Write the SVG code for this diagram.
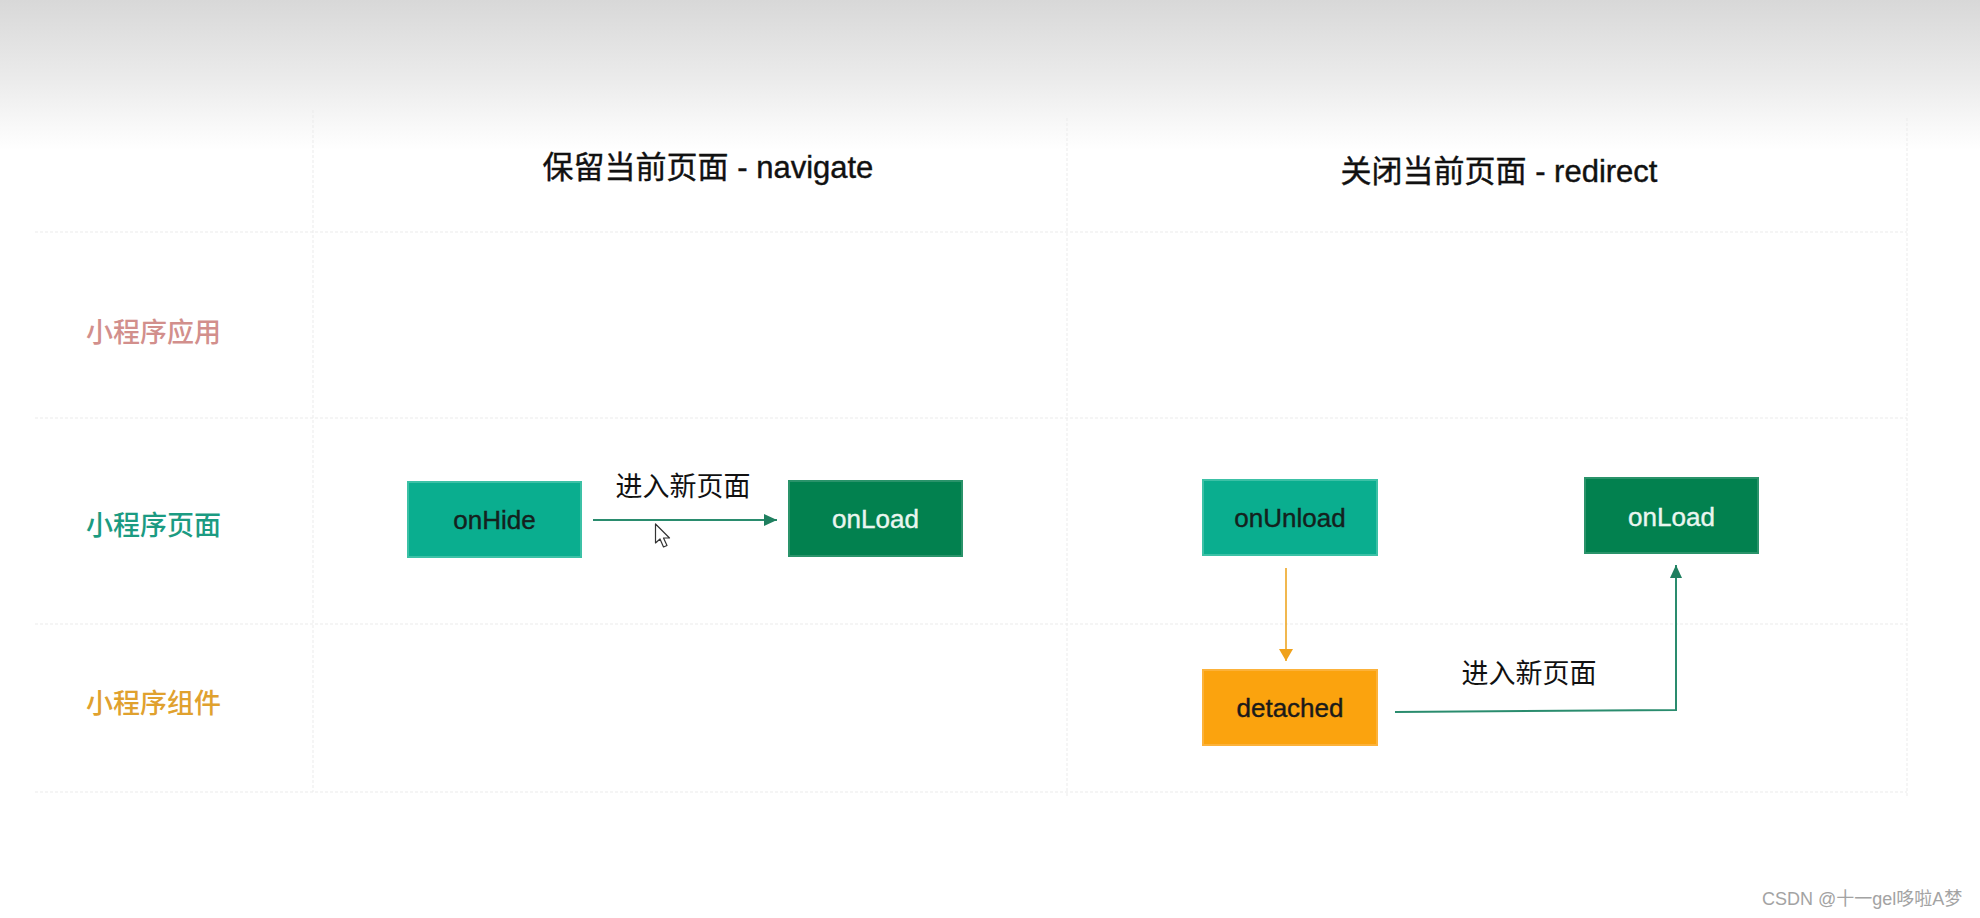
<svg xmlns="http://www.w3.org/2000/svg" width="1980" height="918" viewBox="0 0 1980 918">
  <defs>
    <linearGradient id="bg" x1="0" y1="0" x2="0" y2="1">
      <stop offset="0" stop-color="#d8d8d8"/>
      <stop offset="0.55" stop-color="#ececec"/>
      <stop offset="1" stop-color="#ffffff"/>
    </linearGradient>
    <marker id="arrG" markerUnits="userSpaceOnUse" markerWidth="14" markerHeight="12" refX="13" refY="6" orient="auto">
      <path d="M0,0 L13,6 L0,12 Z" fill="#1f7f5f"/>
    </marker>
    <marker id="arrO" markerUnits="userSpaceOnUse" markerWidth="14" markerHeight="14" refX="12" refY="7" orient="auto">
      <path d="M0,0 L12,7 L0,14 Z" fill="#f0a21c"/>
    </marker>
    <style>
      .grid { stroke: #ebebeb; stroke-width: 1; stroke-dasharray: 3 2; fill: none; }
      .title { font-family: "Liberation Sans", "Noto Sans CJK SC", sans-serif; font-size: 31px; fill: #111; text-anchor: middle; stroke: #111; stroke-width: 0.4px; }
      .rowlab { font-family: "Noto Sans CJK SC", sans-serif; font-size: 27px; font-weight: 500; }
      .lbl { font-family: "Noto Sans CJK SC", sans-serif; font-size: 27px; fill: #111; text-anchor: middle; }
      .btxt { font-family: "Liberation Sans", Arial, sans-serif; font-size: 26px; text-anchor: middle; stroke-width: 0.4px; }
      .teal { fill: #0aae8f; stroke: #3cc1a6; stroke-width: 2; }
      .dark { fill: #02814f; stroke: #2a936a; stroke-width: 2; }
      .orange { fill: #fba30e; stroke: #fcb23a; stroke-width: 2; }
      .conn-g { stroke: #2a8c6e; stroke-width: 2; fill: none; }
      .conn-o { stroke: #eea623; stroke-width: 1.6; fill: none; }
    </style>
  </defs>

  <rect x="0" y="0" width="1980" height="918" fill="#ffffff"/>
  <rect x="0" y="0" width="1980" height="150" fill="url(#bg)"/>

  <g id="grid">
    <line class="grid" x1="35" y1="232" x2="1907" y2="232"/>
    <line class="grid" x1="35" y1="418" x2="1907" y2="418"/>
    <line class="grid" x1="35" y1="624" x2="1907" y2="624"/>
    <line class="grid" x1="35" y1="792" x2="1907" y2="792"/>
    <line class="grid" x1="313" y1="110" x2="313" y2="792"/>
    <line class="grid" x1="1067" y1="118" x2="1067" y2="797"/>
    <line class="grid" x1="1907" y1="118" x2="1907" y2="797"/>
  </g>

  <g id="headers">
    <text class="title" x="708" y="178">保留当前页面 - navigate</text>
    <text class="title" x="1499" y="182">关闭当前页面 - redirect</text>
  </g>

  <g id="row-labels">
    <text class="rowlab" x="86" y="342" fill="#d28f8c">小程序应用</text>
    <text class="rowlab" x="86" y="535" fill="#1b9b82">小程序页面</text>
    <text class="rowlab" x="86" y="713" fill="#e0a12e">小程序组件</text>
  </g>

  <g id="connectors">
    <line class="conn-g" x1="593" y1="520" x2="777" y2="520" marker-end="url(#arrG)"/>
    <text class="lbl" x="683" y="496">进入新页面</text>
    <line class="conn-o" x1="1286" y1="568" x2="1286" y2="661" marker-end="url(#arrO)"/>
    <polyline class="conn-g" points="1395,712 1676,710 1676,565" marker-end="url(#arrG)"/>
    <text class="lbl" x="1529" y="683">进入新页面</text>
  </g>

  <g id="node-onHide">
    <rect class="teal" x="408" y="482" width="173" height="75"/>
    <text class="btxt" x="494.5" y="529" fill="#14211d" stroke="#14211d">onHide</text>
  </g>

  <g id="node-onLoad-navigate">
    <rect class="dark" x="789" y="481" width="173" height="75"/>
    <text class="btxt" x="875.5" y="528" fill="#eaf6ef" stroke="#eaf6ef">onLoad</text>
  </g>

  <g id="node-onUnload">
    <rect class="teal" x="1203" y="480" width="174" height="75"/>
    <text class="btxt" x="1290" y="527" fill="#14211d" stroke="#14211d">onUnload</text>
  </g>

  <g id="node-onLoad-redirect">
    <rect class="dark" x="1585" y="478" width="173" height="75"/>
    <text class="btxt" x="1671.5" y="526" fill="#eaf6ef" stroke="#eaf6ef">onLoad</text>
  </g>

  <g id="node-detached">
    <rect class="orange" x="1203" y="670" width="174" height="75"/>
    <text class="btxt" x="1290" y="717" fill="#1a1a1a" stroke="#1a1a1a">detached</text>
  </g>

  <g id="cursor">
    <path d="M655.5,524 L655.5,543 L660,539 L663.5,547 L667,545.5 L663.5,538 L669.5,538 Z" fill="#ffffff" stroke="#333333" stroke-width="1.2" stroke-linejoin="round"/>
  </g>

  <g id="watermark">
    <text x="1762" y="905" font-family="Liberation Sans, Noto Sans CJK SC, sans-serif" font-size="18" fill="#a3a3a3">CSDN @十一gel哆啦A梦</text>
  </g>
</svg>
